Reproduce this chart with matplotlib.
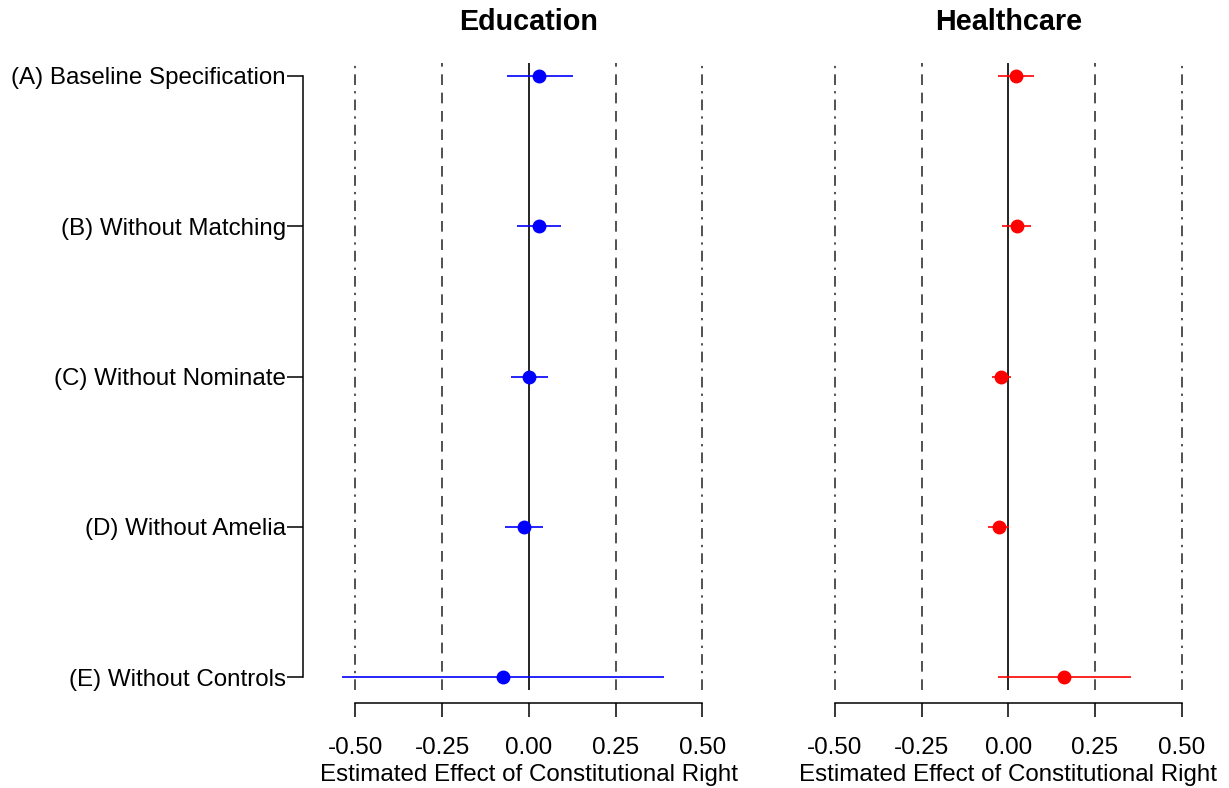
import matplotlib
matplotlib.use("Agg")
import matplotlib.pyplot as plt

plt.rcParams['font.family'] = ['Liberation Sans', 'DejaVu Sans']

specs = ['(A) Baseline Specification', '(B) Without Matching', '(C) Without Nominate',
         '(D) Without Amelia', '(E) Without Controls']
rows = [1, 2, 3, 4, 5]

edu_est = [0.030, 0.028, 0.000, -0.014, -0.076]
edu_lo = [-0.062, -0.034, -0.052, -0.068, -0.540]
edu_hi = [0.126, 0.091, 0.054, 0.041, 0.389]

hc_est = [0.023, 0.025, -0.022, -0.028, 0.162]
hc_lo = [-0.029, -0.017, -0.048, -0.058, -0.029]
hc_hi = [0.075, 0.067, 0.007, 0.003, 0.353]

xticks = [-0.50, -0.25, 0.00, 0.25, 0.50]
xticklabels = ['-0.50', '-0.25', '0.00', '0.25', '0.50']

W, H = 1229, 788
fig = plt.figure(figsize=(W / 100, H / 100), dpi=100)

bottom = (H - 690) / H
height = 627 / H
ax1 = fig.add_axes([338.1 / W, bottom, 381.7 / W, height])
ax2 = fig.add_axes([817.4 / W, bottom, 381.7 / W, height])


def draw_panel(ax, est, lo, hi, color, title, cx):
    for v in (-0.5, 0.5):
        ax.axvline(v, color='#222222', lw=1.1, linestyle=(0, (7, 4, 1.5, 4)), zorder=1)
    for v in (-0.25, 0.25):
        ax.axvline(v, color='#222222', lw=1.1, linestyle=(0, (7, 5)), zorder=1)
    ax.axvline(0, color='black', lw=1.2, zorder=1)
    ax.hlines(rows, lo, hi, color=color, lw=1.2, zorder=2)
    ax.plot(est, rows, 'o', color=color, markersize=9, zorder=3)
    ax.set_xlim(-0.55, 0.55)
    ax.set_ylim(5.085, 0.915)
    for s in ('top', 'right'):
        ax.spines[s].set_visible(False)
    ax.spines['bottom'].set_position(('outward', 9.5))
    ax.spines['bottom'].set_bounds(-0.5, 0.5)
    ax.spines['bottom'].set_linewidth(1.1)
    ax.set_xticks(xticks)
    ax.set_xticklabels(xticklabels, fontsize=17.4)
    ax.tick_params(axis='x', length=10, width=1.1, pad=14)
    fig.text(cx / W, 1 - 22 / H, title, ha='center', va='center',
             fontsize=20.7, fontweight='bold')
    fig.text(cx / W, 1 - 775 / H, 'Estimated Effect of Constitutional Right',
             ha='center', va='center', fontsize=17.4)


draw_panel(ax1, edu_est, edu_lo, edu_hi, '#0000FF', 'Education', 529)
draw_panel(ax2, hc_est, hc_lo, hc_hi, '#FF0000', 'Healthcare', 1008.3)

ax1.spines['left'].set_position(('outward', 25.2))
ax1.spines['left'].set_bounds(1, 5)
ax1.spines['left'].set_linewidth(1.1)
ax1.set_yticks(rows)
ax1.set_yticklabels(specs, fontsize=17.4)
ax1.tick_params(axis='y', length=11.5, width=1.1, pad=1)

ax2.spines['left'].set_visible(False)
ax2.set_yticks([])

fig.savefig('out.png', dpi=100)
